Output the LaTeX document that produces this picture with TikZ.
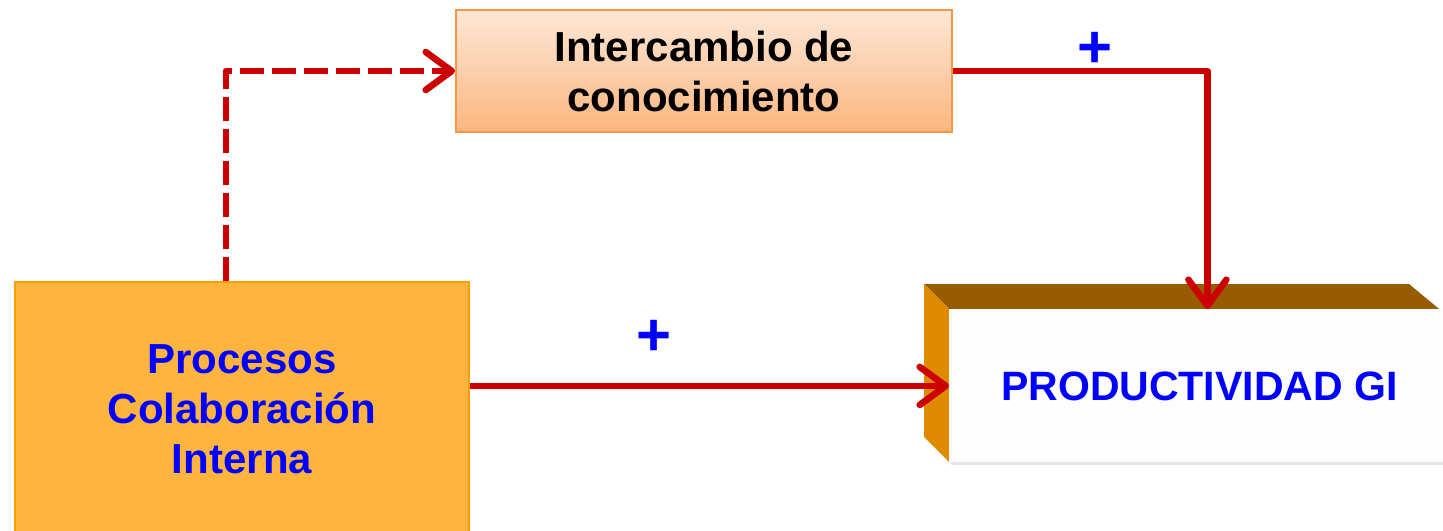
\documentclass[tikz,border=0pt]{standalone}
\usepackage{fontspec}
\setmainfont{Liberation Sans}
\usetikzlibrary{arrows.meta,calc}
\definecolor{arrred}{RGB}{204,0,0}
\definecolor{txtblue}{RGB}{0,0,255}
\definecolor{procfill}{RGB}{255,180,62}
\definecolor{procdraw}{RGB}{255,158,0}
\definecolor{intertop}{RGB}{253,231,214}
\definecolor{interbot}{RGB}{251,182,128}
\definecolor{interdraw}{RGB}{247,150,70}
\definecolor{topface}{RGB}{151,91,0}
\definecolor{leftface}{RGB}{224,138,0}
\definecolor{frontface}{RGB}{253,253,253}
\tikzset{
  lbl/.style={font=\fontsize{21}{25}\selectfont\bfseries, align=center},
  conn/.style={draw=arrred, line width=3.3pt, line join=round, -{Straight Barb[length=13pt,width=19pt,line cap=round,line join=round]}},
  plussign/.style={font=\fontsize{30}{30}\selectfont\bfseries, text=txtblue, inner sep=0pt}
}
\begin{document}
\begin{tikzpicture}[x=0.5pt,y=-0.5pt]
\useasboundingbox (0,0) rectangle (1443,530);
% boxes
\node[lbl, text=txtblue, fill=procfill, draw=procdraw, line width=1pt,
      minimum width=227pt, minimum height=127pt, anchor=north west, inner sep=0pt]
      (proc) at (14,281) {Procesos\\Colaboración\\Interna};
\node[lbl, text=black, top color=intertop, bottom color=interbot, draw=interdraw, line width=1pt,
      minimum width=248pt, minimum height=61pt, anchor=north west, inner sep=0pt]
      (inter) at (455,9) {Intercambio de\\conocimiento};
% 3D box faces
\fill[topface] (924,284) -- (1409,284) -- (1450,318) -- (949,309) -- cycle;
\fill[leftface] (924,284) -- (949,309) -- (949,462) -- (924,437) -- cycle;
\fill[black!10] (951,461) rectangle (1450,465);
\node[lbl, text=txtblue, fill=frontface, minimum width=250pt, minimum height=76.5pt,
      anchor=north west, inner sep=0pt]
      (prod) at (949,309) {\fontsize{20.5}{25}\selectfont PRODUCTIVIDAD GI};
% connectors
\draw[conn, dash pattern=on 12pt off 4pt]
  ([xshift=106pt]proc.north west) |- (inter.west);
\draw[conn] (inter.east) -| ([xshift=4pt]prod.north);
\draw[conn] (prod.west -| proc.east) -- (prod.west);
% plus signs
\node[plussign] (p1) at (1095,50) {+};
\node[plussign] (p2) at (654,338) {+};
\end{tikzpicture}
\end{document}
